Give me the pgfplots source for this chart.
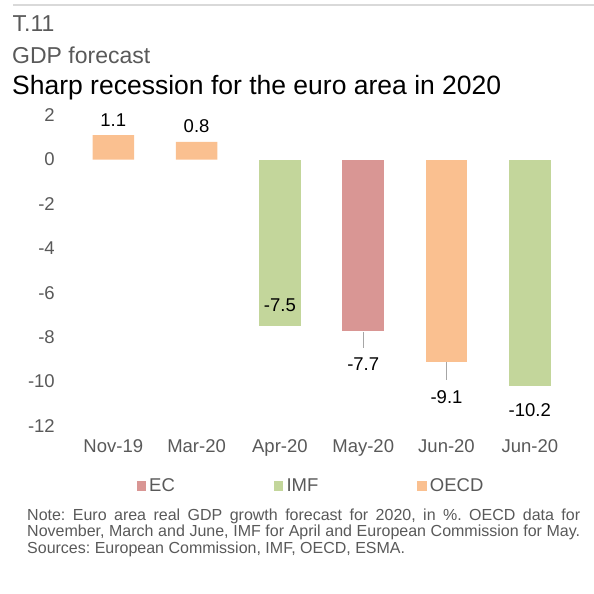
\documentclass[border=0pt]{standalone}
\usepackage{fontspec}
\setmainfont{Liberation Sans}
\usepackage{pgfplots}
\pgfplotsset{compat=1.18}
\definecolor{oecd}{HTML}{FAC090}
\definecolor{imf}{HTML}{C3D69B}
\definecolor{ec}{HTML}{D99694}
\definecolor{txtgray}{HTML}{595959}
\definecolor{linegray}{HTML}{D9D9D9}
\definecolor{leadgray}{HTML}{A6A6A6}
\newcommand{\chartfont}{\fontsize{18.5bp}{22bp}\selectfont}
\pgfplotsset{
  sq legend/.style={legend image code/.code={%
    \draw[#1,/tikz/.cd,draw=none] (0bp,-4.65bp) rectangle (9.3bp,4.65bp);
    \path (12.6bp,0bp);}},
}
\frenchspacing
\begin{document}
\begin{tikzpicture}
\useasboundingbox (0,0) rectangle (594bp,594bp);
\draw[linegray, line width=2bp] (13.3bp,589bp) -- (594bp,589bp);
\node[anchor=base west, inner sep=0pt, text=txtgray, font=\fontsize{23bp}{27bp}\selectfont] at (12.5bp,562.3bp) {T.11};
\node[anchor=base west, inner sep=0pt, text=txtgray, font=\fontsize{23bp}{27bp}\selectfont] at (12bp,530.7bp) {GDP forecast};
\node[anchor=base west, inner sep=0pt, text=black, font=\fontsize{26.5bp}{30bp}\selectfont] at (12bp,499bp) {Sharp recession for the euro area in 2020};
\node[anchor=base west, inner sep=0pt, text=txtgray, text width=553bp, align=justify,
      font=\fontsize{16bp}{16.3bp}\selectfont\frenchspacing] at (27bp,73.3bp)
  {Note: Euro area real GDP growth forecast for 2020, in \%. OECD data for\linebreak
   November, March and June, IMF for April and European Commission for May.\linebreak
   Sources: European Commission, IMF, OECD, ESMA.};
\begin{axis}[
  at={(71.65bp,168bp)}, anchor=south west,
  scale only axis, width=499.8bp, height=310.8bp,
  xmin=-0.5, xmax=5.5, ymin=-12, ymax=2,
  ytick={-12,-10,-8,-6,-4,-2,0,2},
  xtick={0,1,2,3,4,5},
  xticklabels={Nov-19,Mar-20,Apr-20,May-20,Jun-20,Jun-20},
  axis line style={draw=none},
  major tick length=0pt,
  tick style={draw=none},
  /pgf/number format/assume math mode=true,
  ticklabel style={font=\chartfont, text=txtgray},
  xticklabel style={anchor=base, yshift=-26.3bp, inner sep=0pt},
  yticklabel style={anchor=east, inner sep=0pt, xshift=-16.7bp},
  every node near coord/.append style={font=\chartfont, text=black, inner sep=0pt},
  legend columns=3,
  legend style={draw=none, fill=none, at={(0.130,-0.193)}, anchor=west,
    inner sep=0pt, outer sep=0pt, font=\chartfont, text=txtgray,
    nodes={inner sep=0pt}, /tikz/every even column/.append style={column sep=99bp}},
  clip=false,
]
\addplot[ybar, bar shift=0pt, bar width=41.5bp, fill=ec, draw=none, sq legend,
  nodes near coords, nodes near coords style={anchor=base, yshift=-40.3bp}]
  coordinates {(3,-7.7)};
\addlegendentry{EC}
\addplot[ybar, bar shift=0pt, bar width=41.5bp, fill=imf, draw=none, sq legend,
  nodes near coords, nodes near coords style={anchor=base, yshift=14.5bp}]
  coordinates {(2,-7.5)};
\addlegendentry{IMF}
\addplot[ybar, bar shift=0pt, bar width=41.5bp, fill=imf, draw=none, forget plot,
  nodes near coords, nodes near coords style={anchor=base, yshift=-30.7bp}]
  coordinates {(5,-10.2)};
\addplot[ybar, bar shift=0pt, bar width=41.5bp, fill=oecd, draw=none, sq legend,
  nodes near coords, nodes near coords style={anchor=base, yshift=9bp}]
  coordinates {(0,1.1) (1,0.8)};
\addlegendentry{OECD}
\addplot[ybar, bar shift=0pt, bar width=41.5bp, fill=oecd, draw=none, forget plot,
  nodes near coords, nodes near coords style={anchor=base, yshift=-41.8bp}]
  coordinates {(4,-9.1)};
\draw[leadgray, line width=0.9bp] (axis cs:3,-7.76) -- (axis cs:3,-8.5);
\draw[leadgray, line width=0.9bp] (axis cs:4,-9.11) -- (axis cs:4,-9.93);
\end{axis}
\end{tikzpicture}
\end{document}
